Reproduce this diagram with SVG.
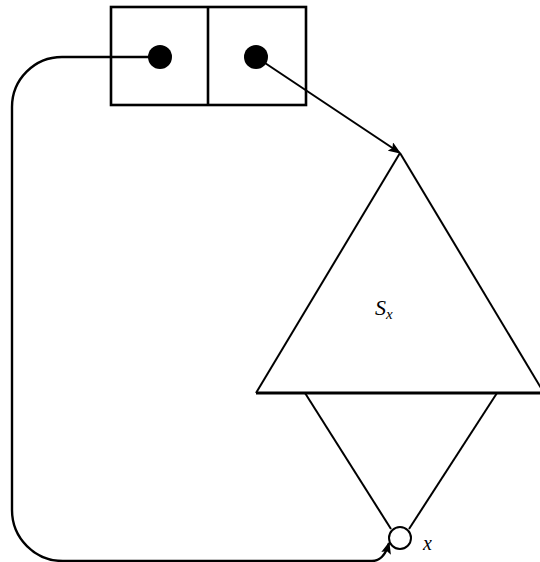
<svg xmlns="http://www.w3.org/2000/svg" width="540" height="562" viewBox="0 0 540 562">
<defs>
<style>
.ln{fill:none;stroke:#000;stroke-width:2}
.bx{fill:none;stroke:#000;stroke-width:2.6}
.lbl{font-family:"Liberation Serif","DejaVu Serif",serif;font-style:italic;fill:#000}
</style>
<marker id="ah" viewBox="0 0 10 10" refX="9" refY="5" markerWidth="13" markerHeight="10" markerUnits="userSpaceOnUse" orient="auto" preserveAspectRatio="none">
<path d="M0,0 L10,5 L0,10 L2,5 z" fill="#000"/>
</marker>
<marker id="ah2" viewBox="0 0 10 10" refX="9" refY="5" markerWidth="12" markerHeight="10" markerUnits="userSpaceOnUse" orient="auto" preserveAspectRatio="none">
<path d="M0,0 L10,5 L0,10 L2,5 z" fill="#000"/>
</marker>
</defs>
<rect width="540" height="562" fill="#fff"/>
<g id="cell">
<rect class="bx" x="111" y="7" width="195" height="98"/>
<line class="bx" x1="208" y1="7" x2="208" y2="105"/>
<circle cx="160" cy="57" r="12" fill="#000"/>
<circle cx="256" cy="57" r="12" fill="#000"/>
</g>
<g id="subtree">
<path class="ln" d="M400,153 L544,393"/>
<path class="ln" d="M400,153 L256,393"/>
<line x1="256" y1="393" x2="540" y2="393" stroke="#000" stroke-width="3"/>
<text class="lbl" x="375" y="315" font-size="22">S<tspan font-size="15" dy="4">x</tspan></text>
</g>
<g id="node-x">
<path class="ln" d="M305,393 L391,529"/>
<path class="ln" d="M497,393 L409,529"/>
<circle cx="400" cy="538" r="11" fill="#fff" stroke="#000" stroke-width="2"/>
<text class="lbl" x="423" y="550" font-size="20">x</text>
</g>
<g id="connectors">
<path class="ln" d="M256,57 L400,153" marker-end="url(#ah)"/>
<path d="M160,57 L62,57 A50,50 0 0 0 12,107 L12,510 A51,51 0 0 0 63,561 L372,561 Q384,561 389,543" fill="none" stroke="#000" stroke-width="2.4" marker-end="url(#ah2)"/>
</g>
</svg>
